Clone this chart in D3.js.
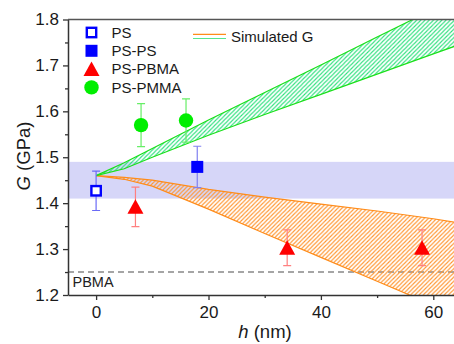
<!DOCTYPE html>
<html>
<head>
<meta charset="utf-8">
<script src="https://d3js.org/d3.v7.min.js"></script>
<style>
  body { margin: 0; background: #fff; }
  text { font-family: "Liberation Sans", Arial, sans-serif; }
</style>
</head>
<body>
<svg id="chart" width="454" height="344"></svg>
<script>
// data
const simH = [0, 5, 10, 20, 30, 40, 50, 60, 65];
const greenUpper = [1.46, 1.488, 1.519, 1.581, 1.641, 1.701, 1.762, 1.822, 1.852];
const greenLower = [1.46, 1.475, 1.500, 1.548, 1.593, 1.637, 1.681, 1.725, 1.747];
const orangeUpper = [1.46, 1.456, 1.450, 1.430, 1.413, 1.398, 1.383, 1.366, 1.356];
const orangeLower = [1.46, 1.452, 1.437, 1.387, 1.334, 1.282, 1.230, 1.178, 1.152];

const psH = [0], psG = [1.427], psErr = [0.043];
const pspsH = [18], pspsG = [1.479], pspsErr = [0.045];
const pbmaH = [7, 34, 58], pbmaG = [1.392, 1.303, 1.303], pbmaErr = [0.043, 0.039, 0.039];
const pmmaH = [8, 16], pmmaG = [1.570, 1.580], pmmaErr = [0.047, 0.047];

const bulkBand = [1.41, 1.49];
const pbmaLine = 1.25;
const xTicks = [0, 20, 40, 60];
const yTicks = [1.2, 1.3, 1.4, 1.5, 1.6, 1.7, 1.8];

const svg = d3.select("#chart");
const x = d3.scaleLinear().domain([-5, 65]).range([68, 461.4]);
const y = d3.scaleLinear().domain([1.2, 1.8]).range([295, 19.5]);
const pLeft = 68, pRight = 454, pTop = 19.5, pBottom = 295;

const defs = svg.append("defs");
defs.append("clipPath").attr("id", "clip")
  .append("rect").attr("x", pLeft).attr("y", pTop).attr("width", pRight - pLeft).attr("height", pBottom - pTop);

function hatch(id, color) {
  const s = 4.2;
  const p = defs.append("pattern").attr("id", id)
    .attr("patternUnits", "userSpaceOnUse").attr("width", s).attr("height", s);
  p.append("path").attr("d", `M-1,1 l2,-2 M0,${s} l${s},-${s} M${s - 1},${s + 1} l2,-2`)
    .attr("stroke", color).attr("stroke-width", 1.1);
}
hatch("hatchG", "#2fe07e");
hatch("hatchO", "#ff9530");

const plot = svg.append("g").attr("clip-path", "url(#clip)");

// bulk PS band
plot.append("rect").attr("x", pLeft).attr("width", pRight - pLeft)
  .attr("y", y(bulkBand[1])).attr("height", y(bulkBand[0]) - y(bulkBand[1]))
  .attr("fill", "#d6d6f8");

// PBMA dashed line
plot.append("line").attr("x1", pLeft).attr("x2", pRight)
  .attr("y1", y(pbmaLine)).attr("y2", y(pbmaLine))
  .attr("stroke", "#888").attr("stroke-width", 1.5).attr("stroke-dasharray", "6,4");

// simulated bands
const area = d3.area().x((d, i) => x(simH[i])).y0(d => y(d[0])).y1(d => y(d[1]));
const line = d3.line().x((d, i) => x(simH[i])).y(d => y(d));
function band(lo, hi, fillId, stroke) {
  plot.append("path").datum(lo.map((v, i) => [v, hi[i]]))
    .attr("d", area).attr("fill", `url(#${fillId})`);
  plot.append("path").datum(lo).attr("d", line).attr("fill", "none").attr("stroke", stroke).attr("stroke-width", 1.2);
  plot.append("path").datum(hi).attr("d", line).attr("fill", "none").attr("stroke", stroke).attr("stroke-width", 1.2);
}
band(orangeLower, orangeUpper, "hatchO", "#ff8c1a");
band(greenLower, greenUpper, "hatchG", "#1be01b");

// error bars
function errs(hs, gs, es, color) {
  hs.forEach((h, i) => {
    const g = plot.append("g").attr("stroke", color).attr("stroke-width", 1.2);
    g.append("line").attr("x1", x(h)).attr("x2", x(h)).attr("y1", y(gs[i] + es[i])).attr("y2", y(gs[i] - es[i]));
    g.append("line").attr("x1", x(h) - 4).attr("x2", x(h) + 4).attr("y1", y(gs[i] + es[i])).attr("y2", y(gs[i] + es[i]));
    g.append("line").attr("x1", x(h) - 4).attr("x2", x(h) + 4).attr("y1", y(gs[i] - es[i])).attr("y2", y(gs[i] - es[i]));
  });
}
errs(psH, psG, psErr, "#6a6af6");
errs(pspsH, pspsG, pspsErr, "#8080f0");
errs(pbmaH, pbmaG, pbmaErr, "#ff8080");
errs(pmmaH, pmmaG, pmmaErr, "#66ee66");

// markers
const sym = {
  ps: (g, cx, cy) => g.append("rect").attr("x", cx - 4.7).attr("y", cy - 4.7).attr("width", 9.4).attr("height", 9.4)
        .attr("fill", "#fff").attr("stroke", "#0000ff").attr("stroke-width", 2.4),
  psps: (g, cx, cy) => g.append("rect").attr("x", cx - 6).attr("y", cy - 6).attr("width", 12).attr("height", 12)
        .attr("fill", "#0000ff"),
  pbma: (g, cx, cy) => g.append("path").attr("d", `M${cx},${cy - 7.5} L${cx + 8},${cy + 7} L${cx - 8},${cy + 7}Z`)
        .attr("fill", "#ff0000"),
  pmma: (g, cx, cy) => g.append("circle").attr("cx", cx).attr("cy", cy).attr("r", 7.2).attr("fill", "#00ee00")
};
psH.forEach((h, i) => sym.ps(plot, x(h), y(psG[i])));
pspsH.forEach((h, i) => sym.psps(plot, x(h), y(pspsG[i])));
pbmaH.forEach((h, i) => sym.pbma(plot, x(h), y(pbmaG[i])));
pmmaH.forEach((h, i) => sym.pmma(plot, x(h), y(pmmaG[i])));

plot.append("text").attr("x", 72.5).attr("y", 287).attr("font-size", 14.5).attr("fill", "#222").text("PBMA");

// axes
const xAxis = svg.append("g").attr("transform", `translate(0,${pBottom})`)
  .call(d3.axisBottom(x).tickValues(xTicks).tickFormat(d3.format("d")).tickSize(5).tickSizeOuter(0));
const xMinor = svg.append("g").attr("transform", `translate(0,${pBottom})`)
  .call(d3.axisBottom(x).tickValues([10, 30, 50]).tickFormat("").tickSize(3).tickSizeOuter(0));
const yAxis = svg.append("g").attr("transform", `translate(${pLeft},0)`)
  .call(d3.axisLeft(y).tickValues(yTicks).tickFormat(d3.format(".1f")).tickSize(5).tickSizeOuter(0));
const yMinor = svg.append("g").attr("transform", `translate(${pLeft},0)`)
  .call(d3.axisLeft(y).tickValues([1.25, 1.35, 1.45, 1.55, 1.65, 1.75]).tickFormat("").tickSize(3).tickSizeOuter(0));
[xAxis, xMinor, yAxis, yMinor].forEach(a => {
  a.selectAll("path").attr("stroke", "#333").attr("stroke-width", 1.5);
  a.selectAll("line").attr("stroke", "#333").attr("stroke-width", 1.3);
  a.selectAll("text").attr("font-size", 17).attr("fill", "#1a1a1a")
    .attr("font-family", "'Liberation Sans', Arial, sans-serif");
});
xMinor.select("path").remove();
yMinor.select("path").remove();
xAxis.selectAll("text").attr("y", 11).attr("dy", "0.71em");
yAxis.selectAll("text").attr("x", -9);

// top border
svg.append("line").attr("x1", pLeft).attr("x2", pRight).attr("y1", pTop).attr("y2", pTop)
  .attr("stroke", "#555").attr("stroke-width", 1.5);

// axis titles
const yt = svg.append("text").attr("transform", "translate(30,156) rotate(-90)")
  .attr("text-anchor", "middle").attr("font-size", 18.5).attr("fill", "#1a1a1a");
yt.append("tspan").attr("font-style", "italic").text("G");
yt.append("tspan").text(" (GPa)");
const xt = svg.append("text").attr("x", 265).attr("y", 338)
  .attr("text-anchor", "middle").attr("font-size", 18.5).attr("fill", "#1a1a1a");
xt.append("tspan").attr("font-style", "italic").text("h");
xt.append("tspan").text(" (nm)");

// legend
const legendNames = ["PS", "PS-PS", "PS-PBMA", "PS-PMMA"];
const legendKeys = ["ps", "psps", "pbma", "pmma"];
legendNames.forEach((name, i) => {
  const cy = 32.5 + i * 18.3;
  sym[legendKeys[i]](svg, 91.5, cy);
  svg.append("text").attr("x", 111.5).attr("y", cy + 5.3).attr("font-size", 15).attr("fill", "#1a1a1a").text(name);
});
svg.append("line").attr("x1", 193).attr("x2", 226).attr("y1", 34.3).attr("y2", 34.3).attr("stroke", "#ff8c1a").attr("stroke-width", 1.2);
svg.append("line").attr("x1", 193).attr("x2", 226).attr("y1", 38.5).attr("y2", 38.5).attr("stroke", "#55e58f").attr("stroke-width", 1.2);
svg.append("text").attr("x", 231).attr("y", 42).attr("font-size", 15).attr("fill", "#1a1a1a").text("Simulated G");
</script>
</body>
</html>
